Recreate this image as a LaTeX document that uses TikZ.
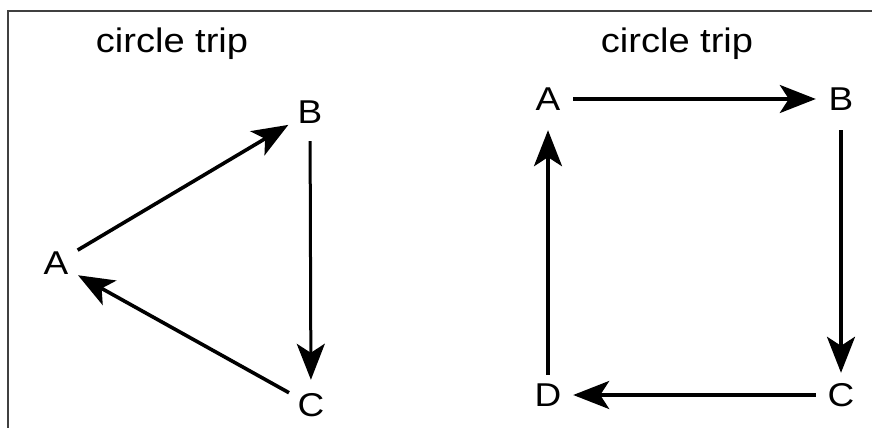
\documentclass[tikz,border=0pt]{standalone}
\usepackage{fontspec}
\setmainfont{Liberation Sans}[FakeStretch=1.12]
\usetikzlibrary{arrows.meta}
\begin{document}
\begin{tikzpicture}[x=1pt,y=-1pt,
  lbl/.style={circle,minimum size=50pt,inner sep=0pt,font=\fontsize{33}{33}\selectfont},
  ttl/.style={inner sep=0pt,font=\fontsize{34}{34}\selectfont},
  arr/.style={line width=3.6pt,-{Stealth[length=36pt,width=28pt,inset=9pt]}},
  frame/.style={line width=1.8pt,draw=black!75}
]
\useasboundingbox (0,0) rectangle (872,435);
\draw[frame] (872,11) -- (8,11) -- (8,428);
% left panel
\node[ttl] (t1) at (172,44) {circle trip};
\node[lbl] (la) at (56,263) {A};
\node[lbl] (lb) at (310,112) {B};
\node[lbl] (lc) at (311,405) {C};
\draw[arr] (la) -- (lb);
\draw[arr, line width=3pt, shorten <=4pt] (lb) -- (lc);
\draw[arr] (lc) -- (la);
% right panel
\node[ttl] (t2) at (677,44) {circle trip};
\node[lbl] (ra) at (548,99) {A};
\node[lbl] (rb) at (841,99) {B};
\node[lbl] (rc) at (841,395) {C};
\node[lbl] (rd) at (548,395) {D};
\draw[arr] (ra) -- (rb);
\draw[arr, shorten <=6pt, shorten >=-3pt] (rb) -- (rc);
\draw[arr] (rc) -- (rd);
\draw[arr, shorten <=-5pt, shorten >=6pt] (rd) -- (ra);
\end{tikzpicture}
\end{document}
